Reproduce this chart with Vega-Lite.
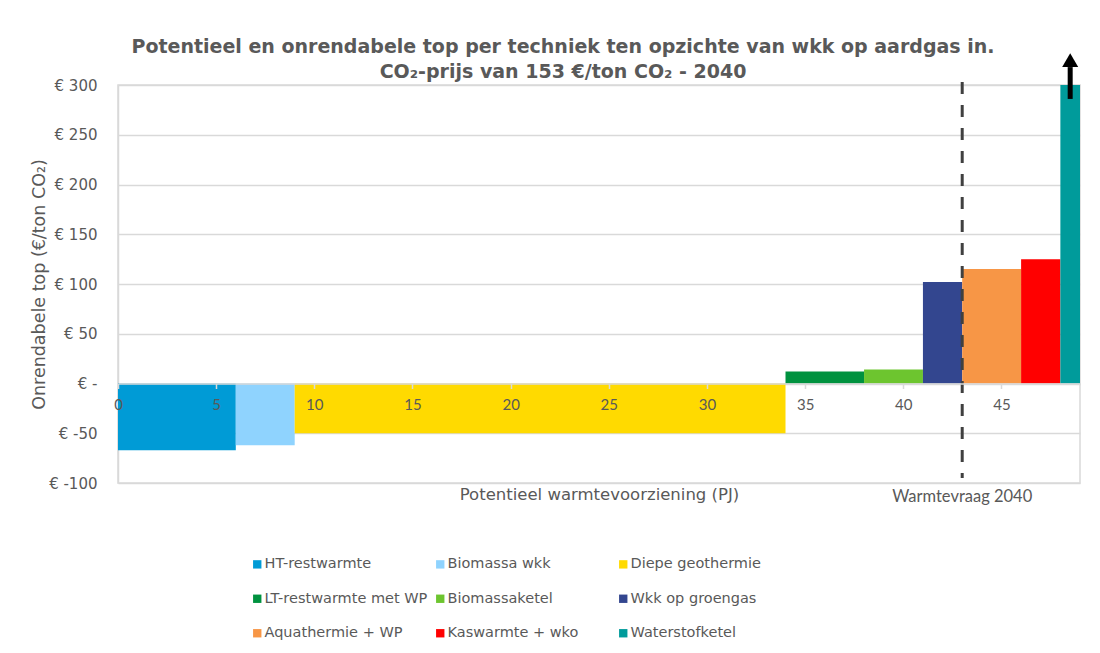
{
  "$schema": "https://vega.github.io/schema/vega-lite/v6.json",
  "width": 962,
  "height": 398,
  "autosize": {"type": "none"},
  "padding": {"left": 118, "top": 85, "right": 20, "bottom": 170},
  "background": "white",
  "title": {
    "text": ["Potentieel en onrendabele top per techniek ten opzichte van wkk op aardgas in.", "CO₂-prijs van 153 €/ton CO₂ - 2040"],
    "font": "DejaVu Sans",
    "fontSize": 19,
    "fontWeight": "bold",
    "color": "#595959",
    "anchor": "middle",
    "dx": -36,
    "offset": -29,
    "lineHeight": 25
  },
  "datasets": {
    "bars": [
      {"techniek": "HT-restwarmte", "start": 0, "end": 6, "top": -67},
      {"techniek": "Biomassa wkk", "start": 6, "end": 9, "top": -62},
      {"techniek": "Diepe geothermie", "start": 9, "end": 34, "top": -50},
      {"techniek": "LT-restwarmte met WP", "start": 34, "end": 38, "top": 12},
      {"techniek": "Biomassaketel", "start": 38, "end": 41, "top": 14},
      {"techniek": "Wkk op groengas", "start": 41, "end": 43, "top": 102},
      {"techniek": "Aquathermie + WP", "start": 43, "end": 46, "top": 115},
      {"techniek": "Kaswarmte + wko", "start": 46, "end": 48, "top": 125},
      {"techniek": "Waterstofketel", "start": 48, "end": 49, "top": 300}
    ],
    "vraag": [
      {"pj": 43, "boven": 303, "onder": -95, "label": "Warmtevraag 2040"}
    ],
    "pijl": [
      {"pj": 48.5, "van": 286, "tot": 318, "punt": 325}
    ]
  },
  "layer": [
    {
      "data": {"name": "bars"},
      "mark": {"type": "rect"},
      "encoding": {
        "x": {
          "field": "start",
          "type": "quantitative",
          "title": "Potentieel warmtevoorziening (PJ)",
          "scale": {"domain": [0, 49], "nice": false, "zero": false},
          "axis": {
            "values": [0, 5, 10, 15, 20, 25, 30, 35, 40, 45],
            "offset": -99.5,
            "zindex": 1,
            "grid": false,
            "domainColor": "#d9d9d9",
            "domainWidth": 1.5,
            "tickColor": "#d9d9d9",
            "tickSize": 5,
            "tickWidth": 1.5,
            "labelFont": "Lato",
            "labelFontSize": 15,
            "labelColor": "#595959",
            "labelPadding": 9,
            "labelFlush": false,
            "titleFont": "DejaVu Sans",
            "titleFontSize": 16.5,
            "titleFontWeight": "normal",
            "titleColor": "#595959",
            "titlePadding": 74
          }
        },
        "x2": {"field": "end"},
        "y": {
          "field": "top",
          "type": "quantitative",
          "title": "Onrendabele top (€/ton CO₂)",
          "scale": {"domain": [-100, 300], "nice": false},
          "axis": {
            "values": [-100, -50, 0, 50, 100, 150, 200, 250, 300],
            "labelExpr": "datum.value == 0 ? '€ -' : '€ ' + datum.value",
            "ticks": false,
            "domainColor": "#d9d9d9",
            "domainWidth": 1.5,
            "gridColor": "#d9d9d9",
            "gridWidth": 1.5,
            "labelFont": "DejaVu Sans",
            "labelFontSize": 15,
            "labelColor": "#595959",
            "labelPadding": 21,
            "titleFont": "DejaVu Sans",
            "titleFontSize": 17.5,
            "titleFontWeight": "normal",
            "titleColor": "#595959",
            "titlePadding": 0
          }
        },
        "y2": {"datum": 0},
        "color": {
          "field": "techniek",
          "type": "nominal",
          "scale": {
            "domain": ["HT-restwarmte", "Biomassa wkk", "Diepe geothermie", "LT-restwarmte met WP", "Biomassaketel", "Wkk op groengas", "Aquathermie + WP", "Kaswarmte + wko", "Waterstofketel"],
            "range": ["#009BD6", "#8FD3FE", "#FFDA00", "#00923F", "#6DC52F", "#33468F", "#F79646", "#FF0000", "#009B9B"]
          },
          "legend": {
            "orient": "none",
            "legendX": 132,
            "legendY": 472,
            "direction": "horizontal",
            "columns": 3,
            "title": null,
            "symbolType": "square",
            "symbolSize": 70,
            "symbolStrokeWidth": 0,
            "labelFont": "DejaVu Sans",
            "labelFontSize": 14.5,
            "labelColor": "#595959",
            "labelLimit": 300,
            "labelOffset": 0,
            "rowPadding": 19.5,
            "columnPadding": 5,
            "gridAlign": "all"
          }
        }
      }
    },
    {
      "data": {"name": "vraag"},
      "mark": {"type": "rule", "strokeDash": [12, 11], "strokeWidth": 3, "color": "#404040"},
      "encoding": {
        "x": {"field": "pj", "type": "quantitative", "title": "Potentieel warmtevoorziening (PJ)"},
        "y": {"field": "boven", "type": "quantitative", "title": "Onrendabele top (€/ton CO₂)"},
        "y2": {"field": "onder"}
      }
    },
    {
      "data": {"name": "vraag"},
      "mark": {"type": "text", "font": "Lato", "fontSize": 16.5, "color": "#595959", "baseline": "middle", "align": "center", "dy": 14},
      "encoding": {
        "x": {"field": "pj", "type": "quantitative", "title": "Potentieel warmtevoorziening (PJ)"},
        "y": {"datum": -100, "type": "quantitative", "title": "Onrendabele top (€/ton CO₂)"},
        "text": {"field": "label"}
      }
    },
    {
      "data": {"name": "pijl"},
      "mark": {"type": "rule", "strokeWidth": 5, "color": "#000000"},
      "encoding": {
        "x": {"field": "pj", "type": "quantitative", "title": "Potentieel warmtevoorziening (PJ)"},
        "y": {"field": "van", "type": "quantitative", "title": "Onrendabele top (€/ton CO₂)"},
        "y2": {"field": "tot"}
      }
    },
    {
      "data": {"name": "pijl"},
      "mark": {"type": "point", "shape": "triangle-up", "size": 256, "filled": true, "color": "#000000", "opacity": 1},
      "encoding": {
        "x": {"field": "pj", "type": "quantitative", "title": "Potentieel warmtevoorziening (PJ)"},
        "y": {"field": "punt", "type": "quantitative", "title": "Onrendabele top (€/ton CO₂)"}
      }
    }
  ],
  "config": {
    "view": {"stroke": "#d9d9d9", "strokeWidth": 1.5}
  }
}
